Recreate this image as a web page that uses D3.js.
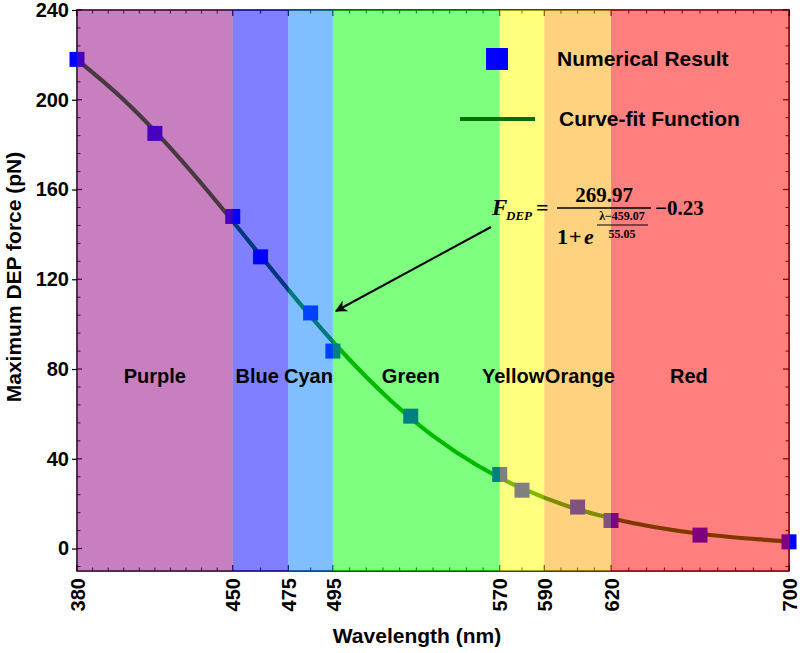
<!DOCTYPE html>
<html><head><meta charset="utf-8">
<script src="https://cdn.jsdelivr.net/npm/d3@7"></script>
<style>body{margin:0;background:#fff}svg{display:block}</style>
</head><body>
<svg id="chart" width="800" height="653"></svg>
<script>
// ---- data ----
const bandNames = ["Purple","Blue","Cyan","Green","Yellow","Orange","Red"];
const bandEdges = [380,450,475,495,570,590,620,700];
const bandColors = ["#900080","#0000ff","#0080ff","#00ff00","#ffff00","#ffa500","#ff0000"];
const bandLabelX = [415,461,484,530,576,606,655];
const bandLabelY = 77;

const xTicks = [380,450,475,495,570,590,620,700];
const xMinorDivs = [10,2,2,10,2,4,10];
const yTicks = [0,40,80,120,160,200,240];
const yMinorStep = 8;

const wavelength = [380,415,450,462.5,485,495,530,570,580,605,620,660,700];
const force      = [218,185,148,130,105,88,59,33,26,18.5,12.5,6,3];

const fitX = [380,400,420,440,460,480,500,520,540,560,580,600,620,640,660,680,700];
const fitY = [217.9,200.9,180.7,157.9,133.6,109.4,86.8,66.9,50.2,37.0,26.8,19.1,13.5,9.5,6.6,4.6,3.1];

// ---- layout ----
const svg = d3.select("#chart");
const L = 77, R = 789, T = 10, B = 571;
const x = d3.scaleLinear().domain([380,700]).range([L,R]);
const y = d3.scaleLinear().domain([-10,240]).range([B,T]);
const sans = "'Liberation Sans', Arial, sans-serif";
const serif = "'Liberation Serif', 'Times New Roman', serif";

// ---- frame & ticks (under the bands) ----
const frame = svg.append("g");
frame.append("rect").attr("x",L).attr("y",T).attr("width",R-L).attr("height",B-T)
  .attr("fill","none").attr("stroke","#000").attr("stroke-width",1.5);

const xMinor = [];
xMinorDivs.forEach((n,i)=>{ const a=xTicks[i], b=xTicks[i+1]; for(let k=1;k<n;k++) xMinor.push(a+(b-a)*k/n); });
const yMinor = d3.range(-8,241,yMinorStep).filter(v=>!yTicks.includes(v));

xTicks.forEach(v=>{
  frame.append("line").attr("x1",x(v)).attr("x2",x(v)).attr("y1",B).attr("y2",B-6).attr("stroke","#000").attr("stroke-width",1.2);
  frame.append("line").attr("x1",x(v)).attr("x2",x(v)).attr("y1",T).attr("y2",T+6).attr("stroke","#000").attr("stroke-width",1.2);
});
xMinor.forEach(v=>{
  frame.append("line").attr("x1",x(v)).attr("x2",x(v)).attr("y1",B).attr("y2",B-3.5).attr("stroke","#000").attr("stroke-width",1);
  frame.append("line").attr("x1",x(v)).attr("x2",x(v)).attr("y1",T).attr("y2",T+3.5).attr("stroke","#000").attr("stroke-width",1);
});
yTicks.forEach(v=>{
  frame.append("line").attr("x1",L).attr("x2",L+5).attr("y1",y(v)).attr("y2",y(v)).attr("stroke","#000").attr("stroke-width",1.2);
  frame.append("line").attr("x1",R).attr("x2",R-6).attr("y1",y(v)).attr("y2",y(v)).attr("stroke","#000").attr("stroke-width",1.2);
});
yMinor.forEach(v=>{
  frame.append("line").attr("x1",L).attr("x2",L+3.5).attr("y1",y(v)).attr("y2",y(v)).attr("stroke","#000").attr("stroke-width",1);
  frame.append("line").attr("x1",R).attr("x2",R-3.5).attr("y1",y(v)).attr("y2",y(v)).attr("stroke","#000").attr("stroke-width",1);
});

// ---- curve & markers ----
const line = d3.line().x((d,i)=>x(fitX[i])).y(d=>y(d)).curve(d3.curveNatural);
svg.append("path").datum(fitY).attr("d",line).attr("fill","none")
  .attr("stroke","#007000").attr("stroke-width",4.2).attr("stroke-linecap","round");

const pts = wavelength.map((w,i)=>({w,f:force[i]}));
const ms = 15;
svg.append("g").selectAll("rect").data(pts).join("rect")
  .attr("x",d=>x(d.w)-ms/2).attr("y",d=>y(d.f)-ms/2).attr("width",ms).attr("height",ms)
  .attr("fill","#0000ff");

// ---- colour bands (semi-transparent, on top) ----
svg.append("g").selectAll("rect").data(bandNames).join("rect")
  .attr("x",(d,i)=>x(bandEdges[i])).attr("y",T)
  .attr("width",(d,i)=>x(bandEdges[i+1])-x(bandEdges[i])).attr("height",B-T)
  .attr("fill",(d,i)=>bandColors[i]).attr("fill-opacity",0.5);

svg.append("g").selectAll("text").data(bandNames).join("text")
  .attr("x",(d,i)=>x(bandLabelX[i])).attr("y",y(bandLabelY)).attr("dy","0.35em")
  .attr("text-anchor","middle").style("font-family",sans).style("font-weight","bold")
  .style("font-size","20px").attr("fill","#000").text(d=>d);

// ---- axes labels ----
const yAxis = svg.append("g").attr("transform",`translate(${L},0)`)
  .call(d3.axisLeft(y).tickValues(yTicks).tickSize(5).tickPadding(3));
yAxis.select(".domain").remove();
yAxis.selectAll("line").attr("stroke","#000").attr("stroke-width",1.2);
yAxis.selectAll("text").style("font-family",sans).style("font-weight","bold").style("font-size","20px").attr("fill","#000");

const xAxis = svg.append("g").attr("transform",`translate(0,${B})`)
  .call(d3.axisBottom(x).tickValues(xTicks).tickSize(0));
xAxis.select(".domain").remove();
xAxis.selectAll("text").attr("transform","rotate(-90)").attr("x",-7).attr("y",0).attr("dy","0.36em")
  .style("text-anchor","end").style("font-family",sans).style("font-weight","bold").style("font-size","20px").attr("fill","#000");

svg.append("text").attr("x",(L+R)/2 - 16).attr("y",643).attr("text-anchor","middle")
  .style("font-family",sans).style("font-weight","bold").style("font-size","21px").text("Wavelength (nm)");
svg.append("text").attr("transform","translate(21,277) rotate(-90)").attr("text-anchor","middle")
  .style("font-family",sans).style("font-weight","bold").style("font-size","21px").text("Maximum DEP force (pN)");

// ---- legend ----
svg.append("rect").attr("x",486).attr("y",48).attr("width",22).attr("height",22).attr("fill","#0000ff");
svg.append("text").attr("x",557).attr("y",66).style("font-family",sans).style("font-weight","bold").style("font-size","21px").text("Numerical Result");
svg.append("line").attr("x1",460).attr("x2",535).attr("y1",119).attr("y2",119).attr("stroke","#007000").attr("stroke-width",4);
svg.append("text").attr("x",559).attr("y",126).style("font-family",sans).style("font-weight","bold").style("font-size","21px").text("Curve-fit Function");

// ---- formula ----
const fg = svg.append("g").style("font-family",serif).style("font-weight","bold").attr("fill","#000");
fg.append("text").attr("x",492).attr("y",215).style("font-size","23px").style("font-style","italic").text("F");
fg.append("text").attr("x",506).attr("y",220).style("font-size","13px").style("font-style","italic").text("DEP");
fg.append("text").attr("x",536).attr("y",215).style("font-size","22px").text("=");
fg.append("text").attr("x",604).attr("y",202).attr("text-anchor","middle").style("font-size","21px").text("269.97");
fg.append("line").attr("x1",557).attr("x2",651).attr("y1",208).attr("y2",208).attr("stroke","#000").attr("stroke-width",1.5);
fg.append("text").attr("x",655).attr("y",215).style("font-size","21px").text("\u22120.23");
fg.append("text").attr("x",557).attr("y",244).style("font-size","22px").text("1");
fg.append("text").attr("x",569).attr("y",244).style("font-size","22px").text("+");
fg.append("text").attr("x",584).attr("y",244).style("font-size","22px").style("font-style","italic").text("e");
fg.append("text").attr("x",622).attr("y",220).attr("text-anchor","middle").style("font-size","12px").text("\u03bb\u2212459.07");
fg.append("line").attr("x1",597).attr("x2",648).attr("y1",225).attr("y2",225).attr("stroke","#000").attr("stroke-width",1);
fg.append("text").attr("x",622).attr("y",238).attr("text-anchor","middle").style("font-size","12px").text("55.05");

// ---- arrow ----
svg.append("defs").append("marker").attr("id","ah").attr("viewBox","0 0 10 10").attr("refX",9).attr("refY",5)
  .attr("markerWidth",6).attr("markerHeight",6).attr("orient","auto")
  .append("path").attr("d","M0,0 L10,5 L0,10 L3,5 Z").attr("fill","#000");
svg.append("line").attr("x1",491).attr("y1",227).attr("x2",336).attr("y2",311)
  .attr("stroke","#000").attr("stroke-width",2).attr("marker-end","url(#ah)");
</script>
</body></html>
